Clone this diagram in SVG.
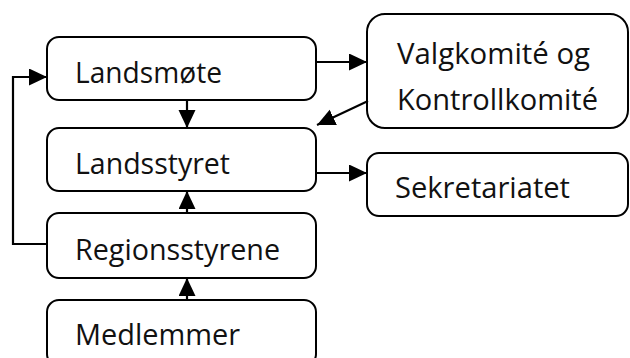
<svg xmlns="http://www.w3.org/2000/svg" width="630" height="358" viewBox="0 0 630 358">
<style>
.box{fill:#fff;stroke:#000;stroke-width:2}
.t{font-family:"Open Sans","Liberation Sans",sans-serif;font-size:30px;fill:#111}
.c{fill:none;stroke:#000;stroke-width:2.2}
</style>
<defs>
<marker id="ah" markerUnits="userSpaceOnUse" markerWidth="19" markerHeight="18" refX="18" refY="8.5" orient="auto">
<path d="M0,0 L18,8.5 L0,17 Z" fill="#000"/>
</marker>
</defs>
<rect width="630" height="358" fill="#fff"/>
<g id="landsmote"><rect class="box" x="47" y="37" width="269" height="63" rx="12"/><text class="t" x="75" y="83" textLength="147" lengthAdjust="spacingAndGlyphs">Landsmøte</text></g>
<g id="landsstyret"><rect class="box" x="47" y="128" width="269" height="63" rx="12"/><text class="t" x="75" y="174" textLength="155" lengthAdjust="spacingAndGlyphs">Landsstyret</text></g>
<g id="regionsstyrene"><rect class="box" x="47" y="213" width="269" height="65" rx="12"/><text class="t" x="75" y="260" textLength="205" lengthAdjust="spacingAndGlyphs">Regionsstyrene</text></g>
<g id="medlemmer"><rect class="box" x="47" y="300" width="269" height="66" rx="12"/><text class="t" x="75" y="345" textLength="165" lengthAdjust="spacingAndGlyphs">Medlemmer</text></g>
<g id="valgkomite"><rect class="box" x="367" y="14" width="261" height="114" rx="18"/><text class="t" x="397" y="64" textLength="193" lengthAdjust="spacingAndGlyphs">Valgkomité og</text><text class="t" x="397" y="110" textLength="201" lengthAdjust="spacingAndGlyphs">Kontrollkomité</text></g>
<g id="sekretariatet"><rect class="box" x="367" y="153" width="261" height="63" rx="12"/><text class="t" x="395" y="198" textLength="175" lengthAdjust="spacingAndGlyphs">Sekretariatet</text></g>
<g id="connectors">
<line class="c" x1="187" y1="100" x2="187" y2="128" marker-end="url(#ah)"/>
<line class="c" x1="187" y1="213" x2="187" y2="191" marker-end="url(#ah)"/>
<line class="c" x1="187" y1="300" x2="187" y2="278" marker-end="url(#ah)"/>
<polyline class="c" points="47,244 13,244 13,77 47,77" marker-end="url(#ah)"/>
<line class="c" x1="316" y1="62" x2="367" y2="62" marker-end="url(#ah)"/>
<line class="c" x1="368" y1="101" x2="317" y2="125" marker-end="url(#ah)"/>
<line class="c" x1="316" y1="173" x2="367" y2="173" marker-end="url(#ah)"/>
</g>
</svg>
